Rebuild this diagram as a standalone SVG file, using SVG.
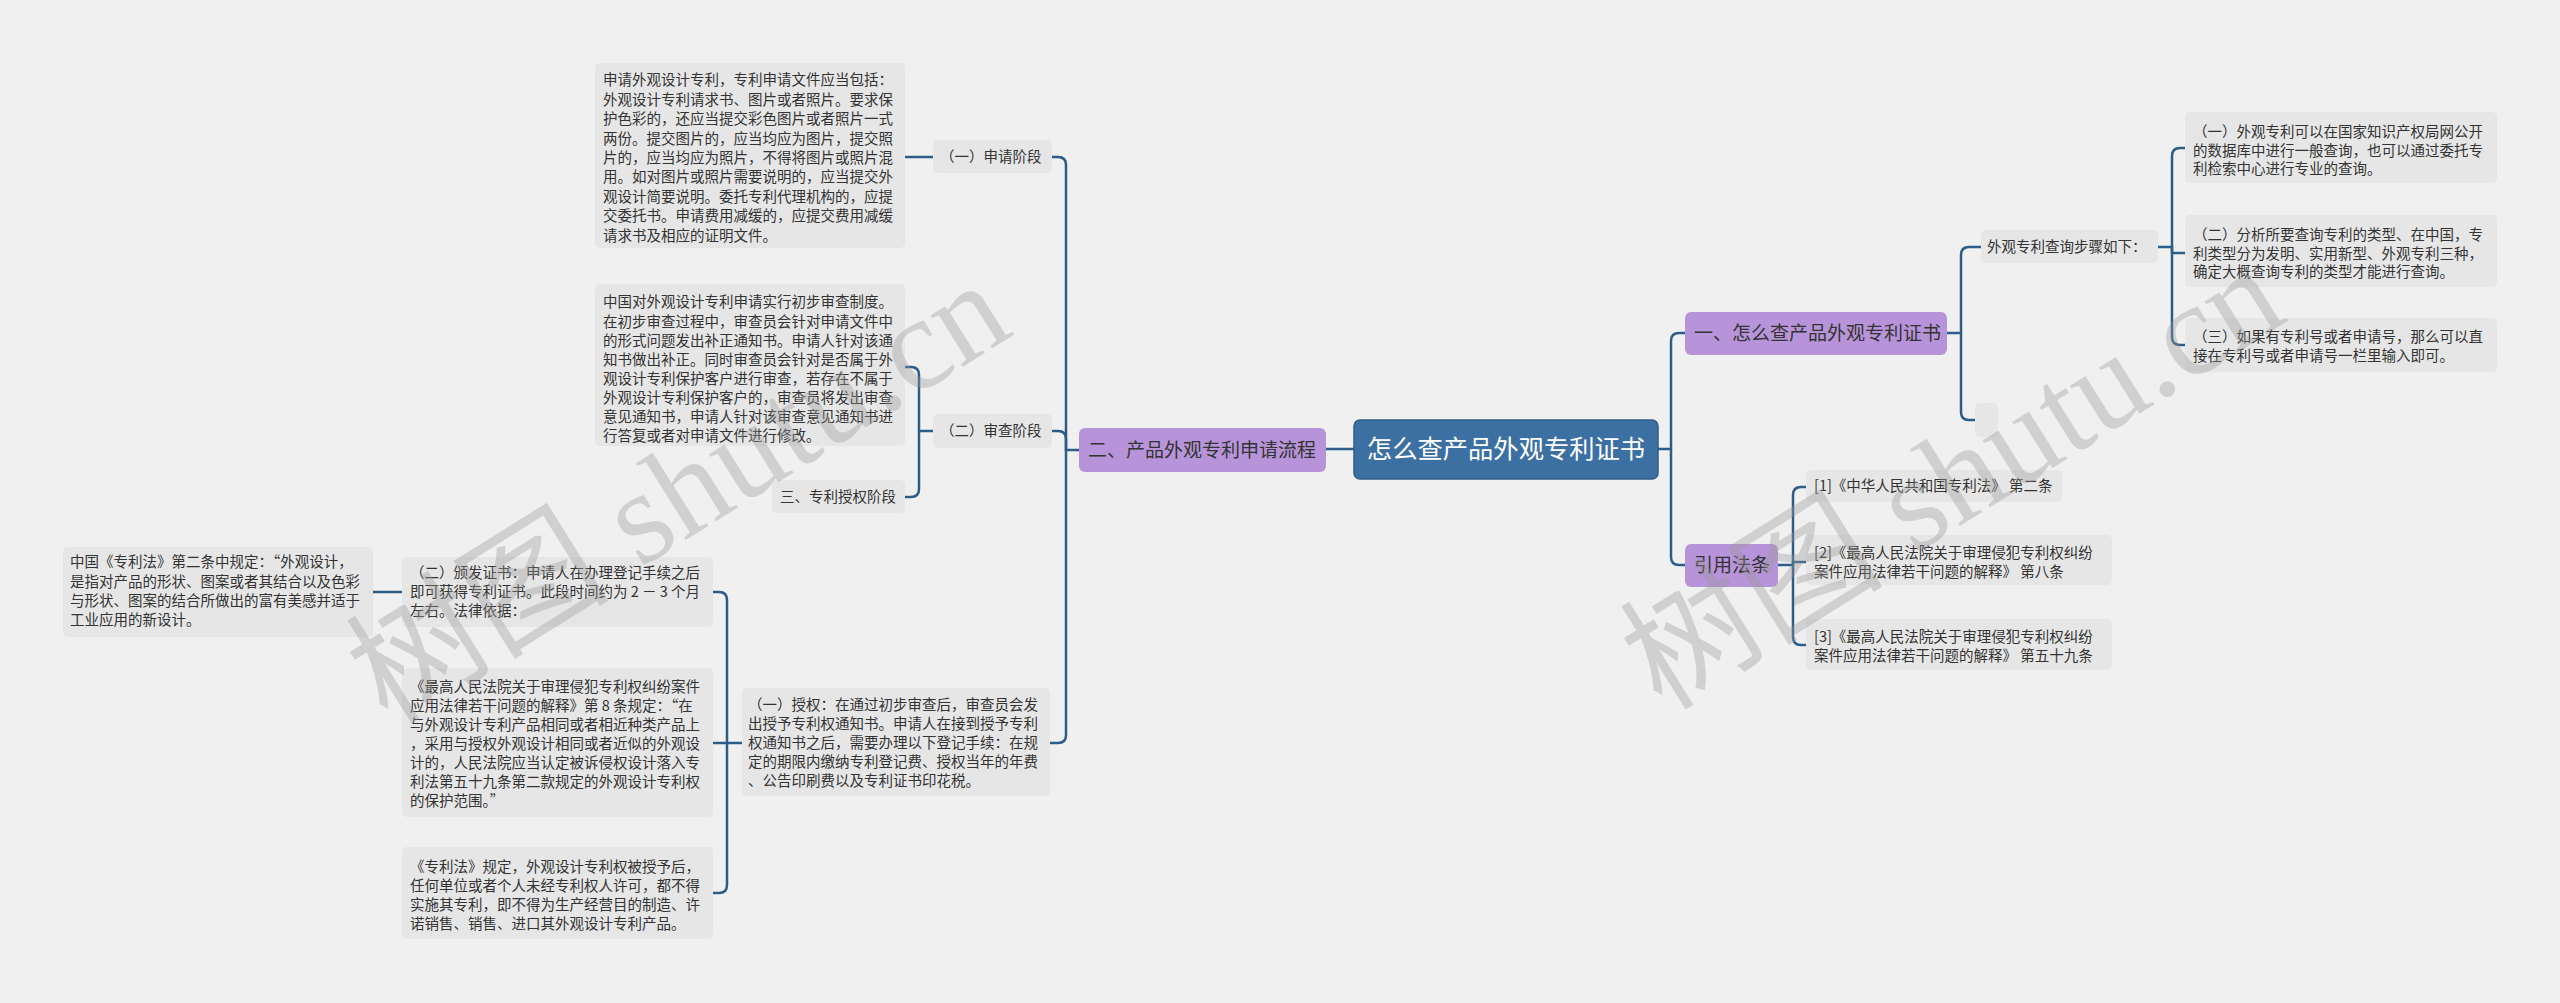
<svg xmlns="http://www.w3.org/2000/svg" width="2560" height="1003" viewBox="0 0 2560 1003">
<style>
text{font-family:"Noto Sans CJK SC","Noto Sans",sans-serif;fill:#333}
.t{font-size:14.5px}
.l1 text{font-size:19px}
.box{fill:#e6e6e6}
.l1 rect{fill:#b794d9}
.c{fill:none;stroke:#2c5d89;stroke-width:2.5;stroke-linecap:round;stroke-linejoin:round}
.wm{font-family:"Liberation Serif","Noto Sans CJK SC",serif;font-size:132px;fill:#999;opacity:0.36}
</style>
<rect x="0" y="0" width="2560" height="1003" fill="#f0f0f0"/>

<g id="connectors" class="c">
<path d="M1354 449 H1326"/>
<path d="M1079 450 H1066 V165 Q1066 157 1058 157 H1052"/>
<path d="M1066 450 V439 Q1066 431 1058 431 H1052"/>
<path d="M1066 450 V735 Q1066 743 1058 743 H1050"/>
<path d="M933 157 H905"/>
<path d="M933 431 H919 V375 Q919 367 911 367 H905"/>
<path d="M919 431 V489 Q919 497 911 497 H905"/>
<path d="M742 743 H727 V600 Q727 592 719 592 H713"/>
<path d="M727 743 H713"/>
<path d="M727 743 V885 Q727 893 719 893 H713"/>
<path d="M402 592 H373"/>
<path d="M1658 449 H1671 V341 Q1671 333 1679 333 H1685"/>
<path d="M1671 449 V557 Q1671 565 1679 565 H1685"/>
<path d="M1947 333 H1961 V255 Q1961 247 1969 247 H1981"/>
<path d="M1961 333 V412 Q1961 420 1969 420 H1975"/>
<path d="M2158 247 H2172 V156 Q2172 148 2180 148 H2185"/>
<path d="M2172 247 V253 H2185"/>
<path d="M2172 247 V337 Q2172 345 2180 345 H2185"/>
<path d="M1778 565 H1793 V495 Q1793 487 1801 487 H1806"/>
<path d="M1793 565 V562 H1806"/>
<path d="M1793 565 V637 Q1793 645 1801 645 H1806"/>
</g>

<g id="root">
<rect x="1354" y="420" width="304" height="59" rx="6" fill="#3d70a2" stroke="#2f5d8a" stroke-width="1.5"/>
<text x="1506" y="458.4" text-anchor="middle" style="font-size:25.3px;fill:#fff">怎么查产品外观专利证书</text>
</g>

<g id="n-flow" class="l1">
<rect x="1079" y="428" width="247" height="44" rx="6"/>
<text x="1088" y="457">二、产品外观专利申请流程</text>
</g>
<g id="n-query" class="l1">
<rect x="1685" y="312" width="262" height="43" rx="6"/>
<text x="1694" y="340">一、怎么查产品外观专利证书</text>
</g>
<g id="n-law" class="l1">
<rect x="1685" y="544" width="93" height="43" rx="6"/>
<text x="1694" y="572">引用法条</text>
</g>

<g id="n-apply">
<rect class="box" x="933" y="140" width="119" height="33" rx="5"/>
<text class="t" x="940" y="162.4">（一）申请阶段</text>
</g>
<g id="n-apply-text">
<rect class="box" x="595" y="63" width="310" height="185" rx="5"/>
<text class="t">
<tspan x="603" y="85.4">申请外观设计专利，专利申请文件应当包括：</tspan>
<tspan x="603" y="104.8">外观设计专利请求书、图片或者照片。要求保</tspan>
<tspan x="603" y="124.2">护色彩的，还应当提交彩色图片或者照片一式</tspan>
<tspan x="603" y="143.6">两份。提交图片的，应当均应为图片，提交照</tspan>
<tspan x="603" y="163">片的，应当均应为照片，不得将图片或照片混</tspan>
<tspan x="603" y="182.4">用。如对图片或照片需要说明的，应当提交外</tspan>
<tspan x="603" y="201.8">观设计简要说明。委托专利代理机构的，应提</tspan>
<tspan x="603" y="221.2">交委托书。申请费用减缓的，应提交费用减缓</tspan>
<tspan x="603" y="240.6">请求书及相应的证明文件。</tspan>
</text>
</g>

<g id="n-exam">
<rect class="box" x="933" y="414" width="119" height="34" rx="5"/>
<text class="t" x="940" y="436.4">（二）审查阶段</text>
</g>
<g id="n-exam-text">
<rect class="box" x="595" y="284" width="310" height="162" rx="5"/>
<text class="t">
<tspan x="603" y="307.4">中国对外观设计专利申请实行初步审查制度。</tspan>
<tspan x="603" y="326.5">在初步审查过程中，审查员会针对申请文件中</tspan>
<tspan x="603" y="345.6">的形式问题发出补正通知书。申请人针对该通</tspan>
<tspan x="603" y="364.7">知书做出补正。同时审查员会针对是否属于外</tspan>
<tspan x="603" y="383.8">观设计专利保护客户进行审查，若存在不属于</tspan>
<tspan x="603" y="402.9">外观设计专利保护客户的，审查员将发出审查</tspan>
<tspan x="603" y="422">意见通知书，申请人针对该审查意见通知书进</tspan>
<tspan x="603" y="441.1">行答复或者对申请文件进行修改。</tspan>
</text>
</g>
<g id="n-grant-stage">
<rect class="box" x="772" y="480" width="133" height="33" rx="5"/>
<text class="t" x="780" y="502.4">三、专利授权阶段</text>
</g>

<g id="n-grant">
<rect class="box" x="742" y="688" width="308" height="108" rx="5"/>
<text class="t">
<tspan x="748" y="710.4">（一）授权：在通过初步审查后，审查员会发</tspan>
<tspan x="748" y="729.2">出授予专利权通知书。申请人在接到授予专利</tspan>
<tspan x="748" y="748">权通知书之后，需要办理以下登记手续：在规</tspan>
<tspan x="748" y="766.8">定的期限内缴纳专利登记费、授权当年的年费</tspan>
<tspan x="748" y="785.6">、公告印刷费以及专利证书印花税。</tspan>
</text>
</g>
<g id="n-cert">
<rect class="box" x="402" y="557" width="311" height="70" rx="5"/>
<text class="t">
<tspan x="410" y="578.4">（二）颁发证书：申请人在办理登记手续之后</tspan>
<tspan x="410" y="597.4">即可获得专利证书。此段时间约为 2 － 3 个月</tspan>
<tspan x="410" y="616.4">左右。法律依据：</tspan>
</text>
</g>
<g id="n-def">
<rect class="box" x="63" y="547" width="310" height="90" rx="5"/>
<text class="t">
<tspan x="70" y="567.4">中国《专利法》第二条中规定：“外观设计，</tspan>
<tspan x="70" y="586.6">是指对产品的形状、图案或者其结合以及色彩</tspan>
<tspan x="70" y="605.8">与形状、图案的结合所做出的富有美感并适于</tspan>
<tspan x="70" y="625">工业应用的新设计。</tspan>
</text>
</g>
<g id="n-art8">
<rect class="box" x="402" y="668" width="311" height="149" rx="5"/>
<text class="t">
<tspan x="410" y="692.4">《最高人民法院关于审理侵犯专利权纠纷案件</tspan>
<tspan x="410" y="711.4">应用法律若干问题的解释》第 8 条规定：“在</tspan>
<tspan x="410" y="730.4">与外观设计专利产品相同或者相近种类产品上</tspan>
<tspan x="410" y="749.4">，采用与授权外观设计相同或者近似的外观设</tspan>
<tspan x="410" y="768.4">计的，人民法院应当认定被诉侵权设计落入专</tspan>
<tspan x="410" y="787.4">利法第五十九条第二款规定的外观设计专利权</tspan>
<tspan x="410" y="806.4">的保护范围。”</tspan>
</text>
</g>
<g id="n-patentlaw">
<rect class="box" x="402" y="847" width="311" height="92" rx="5"/>
<text class="t">
<tspan x="410" y="872.4">《专利法》规定，外观设计专利权被授予后，</tspan>
<tspan x="410" y="891.2">任何单位或者个人未经专利权人许可，都不得</tspan>
<tspan x="410" y="910">实施其专利，即不得为生产经营目的制造、许</tspan>
<tspan x="410" y="928.8">诺销售、销售、进口其外观设计专利产品。</tspan>
</text>
</g>

<g id="n-steps">
<rect class="box" x="1981" y="230" width="177" height="33" rx="5"/>
<text class="t" x="1987" y="252.4">外观专利查询步骤如下：</text>
</g>
<g id="n-empty">
<rect class="box" x="1975" y="403" width="23" height="34" rx="5"/>
</g>
<g id="n-step1">
<rect class="box" x="2185" y="112" width="312" height="71" rx="5"/>
<text class="t">
<tspan x="2193" y="137.4">（一）外观专利可以在国家知识产权局网公开</tspan>
<tspan x="2193" y="155.9">的数据库中进行一般查询，也可以通过委托专</tspan>
<tspan x="2193" y="174.4">利检索中心进行专业的查询。</tspan>
</text>
</g>
<g id="n-step2">
<rect class="box" x="2185" y="215" width="312" height="72" rx="5"/>
<text class="t">
<tspan x="2193" y="240.4">（二）分析所要查询专利的类型、在中国，专</tspan>
<tspan x="2193" y="258.9">利类型分为发明、实用新型、外观专利三种，</tspan>
<tspan x="2193" y="277.4">确定大概查询专利的类型才能进行查询。</tspan>
</text>
</g>
<g id="n-step3">
<rect class="box" x="2185" y="318" width="312" height="54" rx="5"/>
<text class="t">
<tspan x="2193" y="342.4">（三）如果有专利号或者申请号，那么可以直</tspan>
<tspan x="2193" y="360.9">接在专利号或者申请号一栏里输入即可。</tspan>
</text>
</g>

<g id="n-ref1">
<rect class="box" x="1806" y="470" width="256" height="32" rx="5"/>
<text class="t" x="1814" y="491.4">[1]《中华人民共和国专利法》 第二条</text>
</g>
<g id="n-ref2">
<rect class="box" x="1806" y="535" width="306" height="50" rx="5"/>
<text class="t">
<tspan x="1814" y="558.4">[2]《最高人民法院关于审理侵犯专利权纠纷</tspan>
<tspan x="1814" y="577.4">案件应用法律若干问题的解释》 第八条</tspan>
</text>
</g>
<g id="n-ref3">
<rect class="box" x="1806" y="619" width="306" height="51" rx="5"/>
<text class="t">
<tspan x="1814" y="642.4">[3]《最高人民法院关于审理侵犯专利权纠纷</tspan>
<tspan x="1814" y="661.4">案件应用法律若干问题的解释》 第五十九条</tspan>
</text>
</g>

<g id="watermarks">
<text class="wm" transform="translate(388 726) rotate(-32)">树图 shutu.cn</text>
<text class="wm" transform="translate(1662 712) rotate(-32)">树图 shutu.cn</text>
</g>
</svg>
